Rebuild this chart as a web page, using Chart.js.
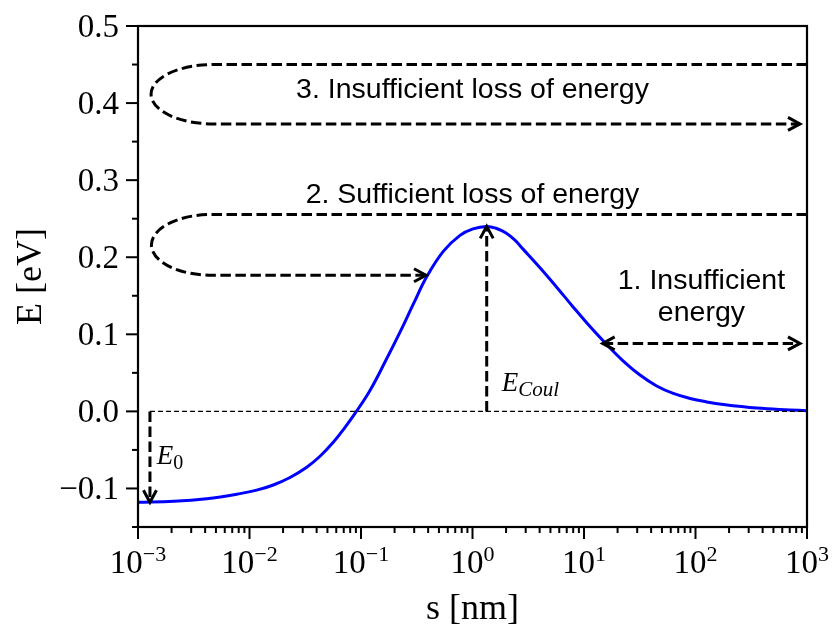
<!DOCTYPE html>
<html>
<head>
<meta charset="utf-8">
<script src="https://cdn.jsdelivr.net/npm/chart.js@4.4.0/dist/chart.umd.min.js"></script>
<style>
    html, body { margin: 0; padding: 0; background: #fff; }
    #wrap { width: 832px; height: 624px; }
</style>
</head>
<body>
<div id="wrap"><canvas id="energyChart" width="832" height="624"></canvas></div>
<script>
// energy profile E(s) along the separation s (nm)
const sValues = [0.001, 0.0021, 0.00413, 0.00822, 0.0116, 0.01635, 0.02307, 0.0326, 0.0429, 0.0564, 0.0719, 0.0884,
                 0.1204, 0.1641, 0.2238, 0.2944, 0.3883, 0.547, 0.7726, 1.01, 1.341,
                 1.625, 1.997, 2.39, 2.855, 4.031, 5.69, 8.017, 11.32, 15.98, 22.51, 31.78, 44.87,
                 63.2, 89.3, 126, 177.6, 353.8, 704, 1000];
const eValues = [-0.118, -0.1167, -0.1132, -0.1067, -0.1022, -0.0955, -0.0858, -0.0724, -0.0582, -0.0401, -0.0207, -0.0026,
                 0.0272, 0.064, 0.1028, 0.1391, 0.1746, 0.2076, 0.2283, 0.2367, 0.240,
                 0.2376, 0.2314, 0.2224, 0.2102, 0.1863, 0.1611, 0.1352, 0.110, 0.0867, 0.0653, 0.0472, 0.033,
                 0.0233, 0.0168, 0.0123, 0.0089, 0.0043, 0.0019, 0.0009];

const xMajorTicks = [1e-3, 1e-2, 1e-1, 1, 10, 100, 1000];
const xTickExponents = ['−3', '−2', '−1', '0', '1', '2', '3'];
const yMajorTicks = [-0.1, 0.0, 0.1, 0.2, 0.3, 0.4, 0.5];
const yTickLabels = ['−0.1', '0.0', '0.1', '0.2', '0.3', '0.4', '0.5'];
const yMinorTicks = [-0.15, -0.05, 0.05, 0.15, 0.25, 0.35, 0.45];

// reference level and the two marked energies
const zeroLine = { sFrom: 0.00128, sTo: 1000, e: 0 };
const coulArrow = { s: 1.341, eFrom: 0, eTo: 0.240 };
const wellArrow = { s: 0.00128, eFrom: 0, eTo: -0.118 };
const escapeArrow = { sFrom: 14.7, sTo: 865, e: 0.0882 };

// incoming line, turning loop, outgoing arrow
const loops = [
    { sEnd: 1000, sRight: 0.0047, sLeft: 0.00131, eTop: 0.45, eBottom: 0.373, sTip: 865 },
    { sEnd: 1000, sRight: 0.0046, sLeft: 0.00132, eTop: 0.2555, eBottom: 0.1766, sTip: 0.383 }
];

const notes = [
    { text: '3. Insufficient loss of energy', s: 1.0, e: 0.4065 },
    { text: '2. Sufficient loss of energy', s: 1.0, e: 0.2704 },
    { text: '1. Insufficient', s: 113, e: 0.1585 },
    { text: 'energy', s: 113, e: 0.1175 }
];
const symbols = [
    { base: 'E', sub: 'Coul', subItalic: true, s: 1.828, e: 0.027 },
    { base: 'E', sub: '0', subItalic: false, s: 0.00147, e: -0.0679 }
];

const SERIF = '"Liberation Serif", "Times New Roman", serif';
const SANS = '"Liberation Sans", Arial, sans-serif';

function arrowHead(ctx, tx, ty, dx, dy) {
    const len = Math.hypot(dx, dy);
    const ux = dx / len, uy = dy / len;
    const hl = 12, hw = 6.5;
    ctx.save();
    ctx.setLineDash([]);
    ctx.lineJoin = 'miter';
    ctx.beginPath();
    ctx.moveTo(tx - ux * hl - uy * hw, ty - uy * hl + ux * hw);
    ctx.lineTo(tx, ty);
    ctx.lineTo(tx - ux * hl + uy * hw, ty - uy * hl - ux * hw);
    ctx.stroke();
    ctx.restore();
}

const overlay = {
    id: 'overlay',
    afterDatasetsDraw(chart) {
        const ctx = chart.ctx;
        const xs = chart.scales.x, ys = chart.scales.y;
        const px = v => xs.getPixelForValue(v);
        const py = v => ys.getPixelForValue(v);
        const area = chart.chartArea;

        ctx.save();
        ctx.strokeStyle = '#000';
        ctx.fillStyle = '#000';
        ctx.lineCap = 'butt';

        // thin zero line
        ctx.lineWidth = 1.3;
        ctx.setLineDash([5, 3]);
        ctx.beginPath();
        ctx.moveTo(px(zeroLine.sFrom), py(zeroLine.e));
        ctx.lineTo(px(zeroLine.sTo), py(zeroLine.e));
        ctx.stroke();

        ctx.lineWidth = 3;
        ctx.setLineDash([10.5, 4.5]);

        // vertical arrows
        [coulArrow, wellArrow].forEach(a => {
            const x = px(a.s), y0 = py(a.eFrom), y1 = py(a.eTo);
            ctx.beginPath();
            ctx.moveTo(x, y0);
            ctx.lineTo(x, y1);
            ctx.stroke();
            arrowHead(ctx, x, y1, 0, y1 - y0);
        });

        // double-headed arrow
        {
            const x0 = px(escapeArrow.sFrom), x1 = px(escapeArrow.sTo), y = py(escapeArrow.e);
            ctx.beginPath();
            ctx.moveTo(x0, y);
            ctx.lineTo(x1, y);
            ctx.stroke();
            arrowHead(ctx, x1, y, 1, 0);
            arrowHead(ctx, x0, y, -1, 0);
        }

        // turning loops
        loops.forEach(l => {
            const xr = px(l.sRight), xl = px(l.sLeft);
            const yt = py(l.eTop), yb = py(l.eBottom);
            const tip = px(l.sTip);
            ctx.beginPath();
            ctx.moveTo(px(l.sEnd), yt);
            ctx.lineTo(xr, yt);
            ctx.ellipse(xr, (yt + yb) / 2, xr - xl, (yb - yt) / 2, 0, -Math.PI / 2, Math.PI / 2, true);
            ctx.lineTo(tip, yb);
            ctx.stroke();
            arrowHead(ctx, tip, yb, 1, 0);
        });

        ctx.setLineDash([]);

        // text notes
        ctx.font = '28.5px ' + SANS;
        ctx.textAlign = 'center';
        ctx.textBaseline = 'alphabetic';
        notes.forEach(n => ctx.fillText(n.text, px(n.s), py(n.e)));

        // energy symbols with subscripts
        ctx.textAlign = 'left';
        symbols.forEach(m => {
            const x = px(m.s), y = py(m.e);
            ctx.font = 'italic 27px ' + SERIF;
            ctx.fillText(m.base, x, y);
            const w = ctx.measureText(m.base).width;
            ctx.font = (m.subItalic ? 'italic 21px ' : '20px ') + SERIF;
            ctx.fillText(m.sub, x + w, y + 5);
        });

        // frame
        ctx.lineWidth = 2.2;
        ctx.strokeRect(area.left, area.top, area.right - area.left, area.bottom - area.top);

        // x ticks and labels
        ctx.lineWidth = 2;
        const yb = area.bottom;
        xMajorTicks.forEach((v, i) => {
            const x = px(v);
            ctx.beginPath();
            ctx.moveTo(x, yb);
            ctx.lineTo(x, yb + 12);
            ctx.stroke();
            if (i < xMajorTicks.length - 1) {
                for (let k = 2; k <= 9; k++) {
                    const xm = px(v * k);
                    ctx.beginPath();
                    ctx.moveTo(xm, yb);
                    ctx.lineTo(xm, yb + 6);
                    ctx.stroke();
                }
            }
            ctx.font = '33px ' + SERIF;
            const w1 = ctx.measureText('10').width;
            ctx.font = '22px ' + SERIF;
            const w2 = ctx.measureText(xTickExponents[i]).width;
            const x0 = x - (w1 + w2) / 2;
            ctx.font = '33px ' + SERIF;
            ctx.fillText('10', x0, 573);
            ctx.font = '22px ' + SERIF;
            ctx.fillText(xTickExponents[i], x0 + w1, 561);
        });

        // y ticks and labels
        const xl = area.left;
        ctx.textAlign = 'right';
        ctx.font = '33px ' + SERIF;
        yMajorTicks.forEach((v, i) => {
            const y = py(v);
            ctx.beginPath();
            ctx.moveTo(xl, y);
            ctx.lineTo(xl - 12, y);
            ctx.stroke();
            ctx.fillText(yTickLabels[i], 119, y + 11);
        });
        yMinorTicks.forEach(v => {
            const y = py(v);
            ctx.beginPath();
            ctx.moveTo(xl, y);
            ctx.lineTo(xl - 6, y);
            ctx.stroke();
        });

        // axis titles
        ctx.font = '36px ' + SERIF;
        ctx.textAlign = 'center';
        ctx.fillText('s [nm]', (area.left + area.right) / 2, 619);
        ctx.save();
        ctx.translate(41, (area.top + area.bottom) / 2);
        ctx.rotate(-Math.PI / 2);
        ctx.fillText('E [eV]', 0, 0);
        ctx.restore();

        ctx.restore();
    }
};

new Chart(document.getElementById('energyChart'), {
    type: 'line',
    data: {
        datasets: [{
            data: sValues.map((s, i) => ({ x: s, y: eValues[i] })),
            borderColor: '#0000ff',
            borderWidth: 3,
            pointRadius: 0,
            tension: 0.4,
            fill: false
        }]
    },
    options: {
        responsive: false,
        animation: false,
        devicePixelRatio: 1,
        layout: { padding: { left: 138, right: 25, top: 26, bottom: 97 } },
        plugins: { legend: { display: false }, tooltip: { enabled: false } },
        scales: {
            x: { type: 'logarithmic', min: 1e-3, max: 1e3, display: false },
            y: { type: 'linear', min: -0.15, max: 0.5, display: false }
        }
    },
    plugins: [overlay]
});
</script>
</body>
</html>
